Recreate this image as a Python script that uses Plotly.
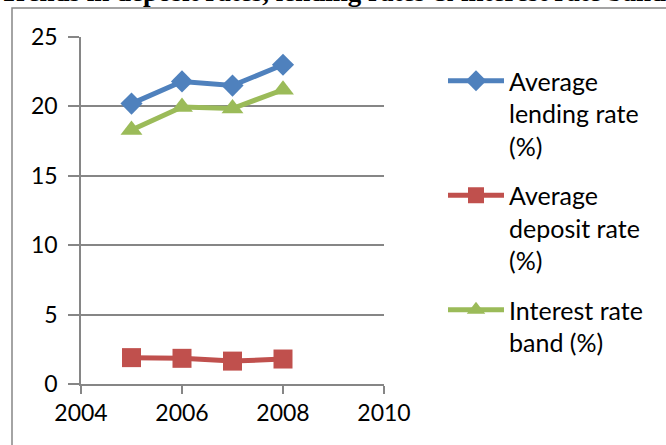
import plotly.graph_objects as go

years = [2005, 2006, 2007, 2008]
lending_rate = [20.2, 21.8, 21.5, 23.0]
deposit_rate = [1.9, 1.85, 1.65, 1.8]
rate_band = [18.3, 19.95, 19.85, 21.2]

series_names = [
    "Average<br>lending rate<br>(%)",
    "Average<br>deposit rate<br>(%)",
    "Interest rate<br>band (%)",
]
colors = ["#4F81BD", "#C0504D", "#9BBB59"]
symbols = ["diamond", "square", "triangle-up"]
marker_sizes = [17, 19, 19]

title_text = "Trends in deposit rates, lending rates & interest rate band"

W, H = 666, 445
L, R, T, B = 81, 282, 37, 61
pw, ph = W - L - R, H - T - B

fig = go.Figure()
for i, (vals, name, col, sym, ms) in enumerate(zip(
    [lending_rate, deposit_rate, rate_band], series_names, colors, symbols, marker_sizes
)):
    fig.add_trace(go.Scatter(
        x=years, y=vals, name=name, mode="lines+markers",
        legendgroup=f"s{i}",
        line=dict(color=col, width=5),
        marker=dict(symbol=sym, size=ms, color=col),
    ))

grid = "#868686"
font_family = "Lato"

fig.update_layout(
    width=W, height=H,
    margin=dict(l=L, r=R, t=T, b=B),
    paper_bgcolor="white", plot_bgcolor="white",
    font=dict(family=font_family, size=23, color="black"),
    showlegend=True,
    legend=dict(
        x=(443 - L) / pw, y=(384 - 58) / ph, xanchor="left", yanchor="top",
        itemwidth=56, valign="top", tracegroupgap=14,
        font=dict(family=font_family, size=25),
        bgcolor="rgba(0,0,0,0)",
    ),
    xaxis=dict(
        range=[2004, 2010], dtick=2, tick0=2004,
        showline=True, linecolor=grid, linewidth=1.5,
        ticks="outside", ticklen=8, tickcolor=grid, tickwidth=1.5,
        showgrid=False, zeroline=False,
        tickfont=dict(family=font_family, size=23),
    ),
    yaxis=dict(
        range=[0, 25], dtick=5, tick0=0,
        showline=True, linecolor=grid, linewidth=1.5,
        ticks="outside", ticklen=11, tickcolor=grid, tickwidth=1.5,
        showgrid=True, gridcolor=grid, gridwidth=1.5,
        zeroline=False,
        tickfont=dict(family=font_family, size=23),
        ticklabelstandoff=6,
    ),
    shapes=[
        dict(
            type="rect", xref="paper", yref="paper",
            x0=(12 - L) / pw, x1=(680 - L) / pw,
            y0=(384 - 460) / ph, y1=(384 - 8) / ph,
            line=dict(color=grid, width=1.5), fillcolor="rgba(0,0,0,0)",
            layer="below",
        )
    ],
    annotations=[
        dict(
            text="<b>" + title_text + "</b>",
            xref="paper", yref="paper",
            x=(-2 - L) / pw, y=(384 - 9) / ph,
            xanchor="left", yanchor="bottom",
            showarrow=False,
            font=dict(family="Liberation Serif", size=27, color="black"),
        )
    ],
)

fig.write_html("out.html")
